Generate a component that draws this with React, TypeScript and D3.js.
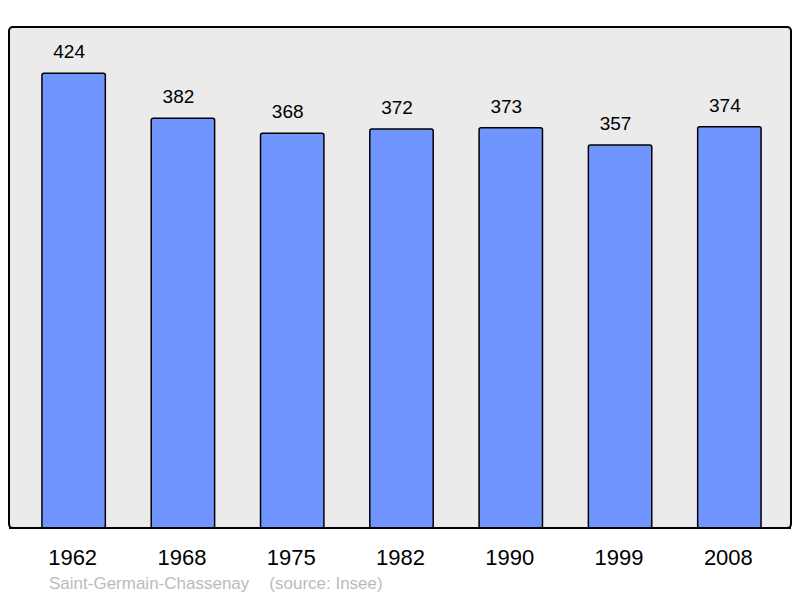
import React, { useEffect, useRef } from 'react';
import * as d3 from 'd3';

const years = ['1962', '1968', '1975', '1982', '1990', '1999', '2008'];
const population = [424, 382, 368, 372, 373, 357, 374];
const commune = 'Saint-Germain-Chassenay';
const source = '(source: Insee)';

const App = () => {
  const svgRef = useRef<SVGSVGElement>(null);
  const width = 800;
  const height = 598;

  useEffect(() => {
    const svg = d3.select(svgRef.current);
    svg.selectAll('*').remove();

    const panel = { left: 9, top: 27, right: 791, bottom: 528 };

    const xScale = d3.scaleBand()
      .domain(years)
      .range([19, 784])
      .paddingInner(0.42)
      .paddingOuter(0.21);

    const yScale = d3.scaleLinear()
      .domain([0, 467])
      .range([panel.bottom, panel.top]);

    // background panel
    svg.append('rect')
      .attr('x', panel.left)
      .attr('y', panel.top)
      .attr('width', panel.right - panel.left)
      .attr('height', panel.bottom - panel.top)
      .attr('rx', 4)
      .attr('fill', '#ebebeb')
      .attr('stroke', '#000')
      .attr('stroke-width', 2);

    const data = years.map((y, i) => ({ year: y, value: population[i] }));

    svg.selectAll('.bar')
      .data(data)
      .enter()
      .append('rect')
      .attr('class', 'bar')
      .attr('x', d => xScale(d.year)!)
      .attr('y', d => yScale(d.value))
      .attr('width', xScale.bandwidth())
      .attr('height', d => panel.bottom - yScale(d.value))
      .attr('rx', 2)
      .attr('fill', '#7095ff')
      .attr('stroke', '#000')
      .attr('stroke-width', 1.5);

    // redraw bottom border over bars
    svg.append('line')
      .attr('x1', panel.left)
      .attr('x2', panel.right)
      .attr('y1', panel.bottom)
      .attr('y2', panel.bottom)
      .attr('stroke', '#000')
      .attr('stroke-width', 2);

    svg.selectAll('.value-label')
      .data(data)
      .enter()
      .append('text')
      .attr('class', 'value-label')
      .attr('x', d => xScale(d.year)! + xScale.bandwidth() / 2 - 4.5)
      .attr('y', d => yScale(d.value) - 15)
      .attr('text-anchor', 'middle')
      .style('font-family', 'Liberation Sans, Arial, sans-serif')
      .style('font-size', '19px')
      .style('fill', '#000')
      .text(d => d.value);

    svg.selectAll('.year-label')
      .data(data)
      .enter()
      .append('text')
      .attr('class', 'year-label')
      .attr('x', d => xScale(d.year)! + xScale.bandwidth() / 2 - 1)
      .attr('y', 565)
      .attr('text-anchor', 'middle')
      .style('font-family', 'Liberation Sans, Arial, sans-serif')
      .style('font-size', '22px')
      .style('fill', '#000')
      .text(d => d.year);

    const footer = svg.append('text')
      .attr('x', 49)
      .attr('y', 589)
      .style('font-family', 'Liberation Sans, Arial, sans-serif')
      .style('font-size', '17px')
      .style('fill', '#bbbbbb');
    footer.append('tspan').text(commune);
    footer.append('tspan').attr('dx', 20).text(source);
  }, []);

  return (
    <svg
      ref={svgRef}
      width={width}
      height={height}
      style={{ position: 'absolute', left: 0, top: 0, display: 'block' }}
    />
  );
};

export default App;
